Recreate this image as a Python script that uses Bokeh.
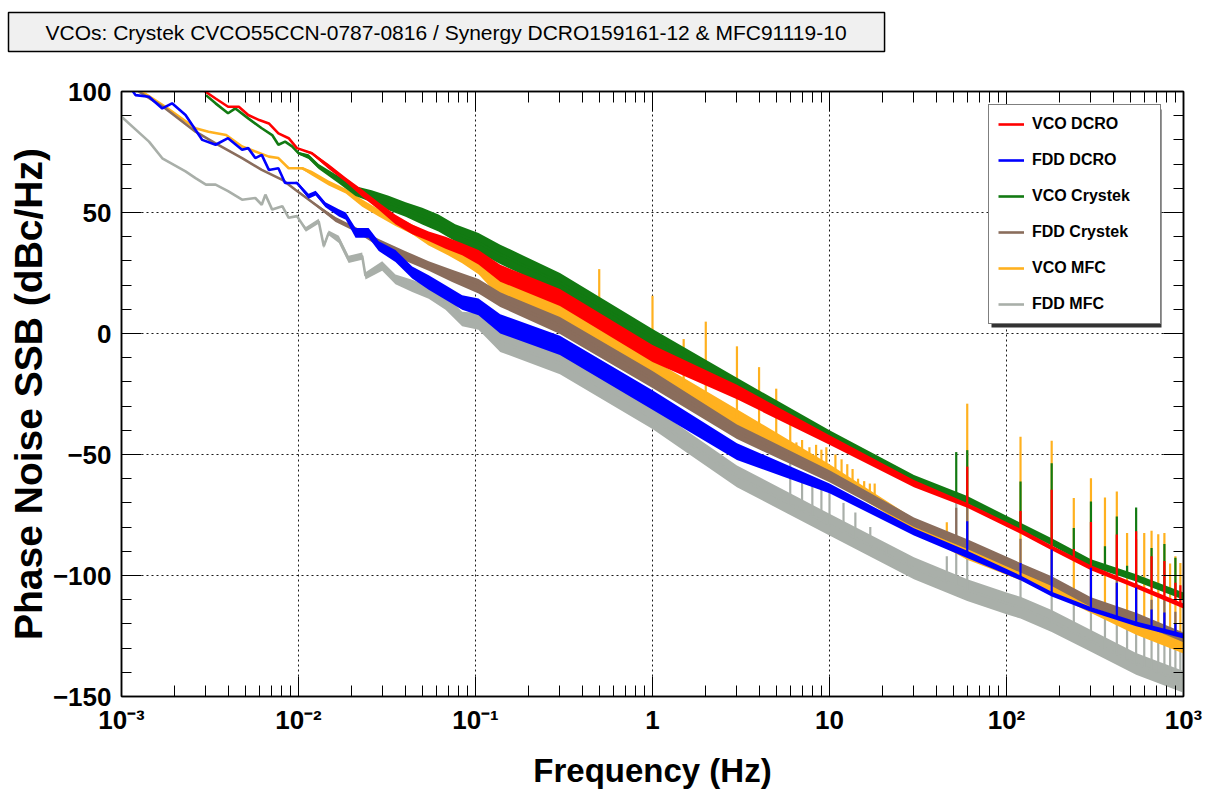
import numpy as np
from bokeh.plotting import figure
from bokeh.models import (FixedTicker, LogAxis, LinearAxis, CustomJSTickFormatter, Legend,
                          LegendItem, Range1d, BoxAnnotation)
from bokeh.embed import file_html
from bokeh.resources import INLINE

# ---------------- texts ----------------
TITLE = "VCOs: Crystek CVCO55CCN-0787-0816 / Synergy DCRO159161-12 & MFC91119-10"
X_LABEL = "Frequency (Hz)"
Y_LABEL = "Phase Noise SSB (dBc/Hz)"
SERIES_NAMES = ["VCO DCRO", "FDD DCRO", "VCO Crystek", "FDD Crystek", "VCO MFC", "FDD MFC"]
X_TICKS = [1e-3, 1e-2, 1e-1, 1.0, 10.0, 100.0, 1000.0]
X_TICK_LABELS = ["10\u207b\u00b3", "10\u207b\u00b2", "10\u207b\u00b9", "1", "10", "10\u00b2", "10\u00b3"]
Y_TICKS = [-150, -100, -50, 0, 50, 100]
Y_TICK_LABELS = ["\u2212150", "\u2212100", "\u221250", "0", "50", "100"]

# ---------------- data (freq in Hz, level in dBc/Hz, spread = half width of noise band in dB) ----------------
# VCO DCRO (red)
f_red = [0.0029, 0.0034, 0.004, 0.0046, 0.0052, 0.006, 0.0068, 0.0077, 0.0088, 0.0098,
         0.0119, 0.0148, 0.0185, 0.0229, 0.0284, 0.0353, 0.0439, 0.0544, 0.0677, 0.0841,
         0.104, 0.138, 0.3, 1.0, 3.0, 10.0, 30.0, 60.0, 120.0, 180.0,
         300.0, 540.0, 1000.0]
v_red = [100.5, 97.1, 93.7, 93.7, 90.3, 88.2, 86.8, 82.7, 80.7, 76.6,
         74.5, 69.0, 63.5, 58.0, 52.6, 47.1, 43.0, 40.2, 37.5, 34.8,
         31.5, 24.9, 14.9, -8.3, -24.2, -44.0, -62.0, -71.0, -81.7, -88.6,
         -96.8, -104.4, -112.6]
s_red = [0, 0, 0, 0, 0, 0, 0, 0, 0, 0,
         0.5, 1, 1, 1.5, 1.5, 2, 2, 2, 2.5, 2.5,
         3, 3.5, 3.5, 3.5, 3, 2, 1.5, 1, 1, 1,
         1, 1, 1]
spk_f_red = [60.0, 120.0, 180.0, 240.0, 300.0, 420.0, 540.0, 660.0, 780.0, 900.0, 960.0]
spk_t_red = [-55.0, -73.3, -64.6, -89.0, -77.9, -83.1, -81.7, -92.0, -94.0, -103.0, -104.0]

# FDD DCRO (blue)
f_blue = [0.00115, 0.0012, 0.00143, 0.0017, 0.00193, 0.0023, 0.00286, 0.0034, 0.004, 0.0048,
          0.0052, 0.0057, 0.0062, 0.0068, 0.0077, 0.0084, 0.0098, 0.0114, 0.0125, 0.0142,
          0.0169, 0.0185, 0.021, 0.0249, 0.0284, 0.0353, 0.0439, 0.0544, 0.0677, 0.0841,
          0.104, 0.138, 0.3, 1.0, 3.0, 10.0, 30.0, 60.0, 120.0, 180.0,
          300.0, 540.0, 1000.0]
v_blue = [100.5, 98.5, 97.8, 93.0, 95.1, 90.3, 80.0, 78.0, 80.7, 75.9,
          76.6, 72.5, 73.8, 67.6, 68.3, 62.2, 62.2, 56.7, 58.0, 53.2,
          49.8, 48.5, 41.6, 41.6, 36.1, 32.0, 25.2, 21.1, 16.9, 12.8,
          11.0, 4.0, -4.9, -27.5, -48.8, -64.0, -82.0, -91.3, -101.0, -107.7,
          -114.0, -120.0, -125.0]
s_blue = [0, 0, 0, 0, 0, 0, 0, 0, 0, 0,
          0, 0, 0, 0, 0, 0, 0.5, 1, 1, 1,
          1.5, 1.5, 2, 2, 2, 2.5, 2.5, 3, 3, 3,
          3.5, 4, 4, 4, 3.5, 2, 1.5, 1.5, 1, 1,
          1, 1, 1]
spk_f_blue = [60.0, 120.0, 180.0, 300.0, 420.0, 540.0, 660.0, 780.0, 900.0]
spk_t_blue = [-77.6, -94.8, -89.3, -96.8, -103.0, -105.0, -114.0, -115.3, -120.0]

# VCO Crystek (green)
f_green = [0.003, 0.0034, 0.004, 0.0044, 0.0052, 0.0062, 0.0071, 0.0077, 0.0084, 0.0092,
           0.01, 0.0114, 0.013, 0.0169, 0.021, 0.0259, 0.0323, 0.0403, 0.05, 0.0618,
           0.0768, 0.104, 0.138, 0.3, 1.0, 3.0, 10.0, 30.0, 60.0, 120.0,
           180.0, 300.0, 540.0, 1000.0]
v_green = [98.5, 95.1, 91.0, 93.0, 88.9, 84.8, 82.0, 78.0, 79.3, 77.3,
           74.5, 73.1, 69.0, 63.5, 58.8, 56.7, 53.9, 51.2, 48.5, 45.7,
           41.6, 37.5, 32.7, 21.0, -1.6, -21.3, -42.0, -60.0, -68.7, -79.7,
           -86.1, -94.8, -101.0, -108.5]
s_green = [0, 0, 0, 0, 0, 0, 0, 0, 0, 0,
           0.5, 1, 1, 1.5, 2, 2.5, 3, 3, 3.5, 3.5,
           3.5, 4, 4, 4, 3.5, 3, 2, 1.5, 1.5, 1.5,
           1.5, 1.5, 1.5, 1.5]
spk_f_green = [52.0, 60.0, 120.0, 180.0, 240.0, 300.0, 360.0, 420.0, 480.0, 540.0, 660.0, 780.0, 900.0]
spk_t_green = [-49.0, -48.2, -61.2, -53.6, -80.4, -69.4, -87.9, -75.6, -96.0, -71.9, -88.6, -87.0, -92.7]

# FDD Crystek (brown)
f_brown = [0.00125, 0.00177, 0.00262, 0.0034, 0.0048, 0.0062, 0.0081, 0.0096, 0.0125, 0.0162,
           0.021, 0.0284, 0.0403, 0.0544, 0.0738, 0.104, 0.138, 0.3, 1.0, 3.0,
           10.0, 30.0, 60.0, 120.0, 180.0, 300.0, 540.0, 1000.0]
v_brown = [100.0, 93.0, 83.4, 78.6, 72.5, 67.6, 63.5, 59.4, 53.2, 47.1,
           43.0, 37.5, 32.0, 27.9, 23.8, 19.5, 14.0, 3.3, -19.0, -40.6,
           -59.0, -78.0, -87.0, -96.8, -102.3, -111.0, -117.4, -125.6]
s_brown = [0, 0, 0, 0, 0, 0, 0, 0, 0.5, 1,
           1, 1.5, 2, 2, 2.5, 3, 3, 3.5, 3.5, 3,
           2.5, 2, 2, 2, 2, 2, 2, 2]
spk_f_brown = [52.0, 60.0, 120.0, 180.0, 300.0, 420.0, 540.0, 660.0, 780.0, 900.0]
spk_t_brown = [-72.0, -69.0, -84.8, -87.0, -95.0, -100.0, -103.0, -110.0, -110.0, -115.0]

# VCO MFC (orange)
f_orange = [0.0013, 0.00177, 0.00262, 0.0031, 0.0039, 0.0048, 0.0057, 0.0068, 0.0077, 0.0088,
            0.0105, 0.0119, 0.0148, 0.0185, 0.0229, 0.0284, 0.0353, 0.0439, 0.0544, 0.0677,
            0.0841, 0.104, 0.138, 0.3, 1.0, 3.0, 10.0, 30.0, 60.0, 120.0,
            180.0, 300.0, 540.0, 1000.0]
v_orange = [100.0, 93.7, 84.8, 83.4, 82.0, 77.3, 75.2, 73.1, 72.5, 68.3,
            68.3, 66.3, 62.2, 58.8, 53.9, 49.8, 46.4, 43.0, 38.9, 35.4,
            32.0, 27.5, 18.3, 8.7, -14.7, -35.3, -57.0, -79.0, -91.0, -99.5,
            -105.0, -113.0, -122.0, -129.7]
s_orange = [0, 0, 0, 0, 0, 0, 0, 0, 0, 0,
            0.5, 1, 1, 1, 1.5, 1.5, 2, 2, 2.5, 2.5,
            3, 3, 3.5, 4, 4, 4, 3, 2.5, 2.5, 2.5,
            2.5, 2.5, 2.5, 2.5]
spk_f_orange = [0.5, 1.0, 1.5, 2.0, 3.0, 4.0, 5.0, 6.0, 6.5, 7.0,
                7.7, 8.4, 9.0, 9.6, 10.8, 11.7, 12.6, 13.5, 14.5, 15.7,
                16.9, 18.0, 21.0, 24.0, 28.0, 32.0, 46.0, 60.0, 120.0, 180.0,
                240.0, 300.0, 360.0, 420.0, 480.0, 540.0, 600.0, 660.0, 720.0, 780.0,
                840.0, 900.0, 960.0]
spk_t_orange = [26.6, 15.6, -2.3, 4.9, -5.3, -13.9, -22.8, -32.0, -45.0, -44.0,
                -47.0, -46.0, -48.0, -47.0, -50.0, -52.0, -54.0, -56.0, -60.0, -61.0,
                -62.0, -62.0, -70.0, -74.0, -76.0, -78.0, -78.0, -29.0, -42.7, -44.3,
                -68.0, -59.8, -67.8, -65.3, -82.4, -85.0, -82.4, -81.5, -83.0, -82.4,
                -95.0, -92.0, -94.8]

# FDD MFC (gray)
f_gray = [0.001, 0.00143, 0.0017, 0.0023, 0.00262, 0.003, 0.0034, 0.004, 0.0048, 0.0057,
          0.0062, 0.0065, 0.0071, 0.0081, 0.0088, 0.0098, 0.011, 0.013, 0.0139, 0.0148,
          0.0169, 0.0192, 0.0229, 0.0239, 0.0297, 0.0353, 0.0439, 0.0544, 0.0677, 0.0841,
          0.104, 0.138, 0.3, 1.0, 3.0, 10.0, 30.0, 60.0, 100.0, 120.0,
          180.0, 300.0, 540.0, 1000.0]
v_gray = [89.6, 79.3, 72.4, 67.0, 64.2, 61.5, 61.5, 58.8, 55.3, 56.0,
          53.2, 57.4, 51.2, 52.6, 47.8, 48.5, 43.0, 46.4, 36.1, 41.6,
          38.9, 30.6, 32.0, 23.8, 27.9, 22.4, 19.7, 16.9, 12.8, 6.0,
          5.0, -3.6, -12.3, -35.0, -59.0, -79.0, -97.0, -106.0, -111.5, -113.3,
          -118.8, -127.0, -136.5, -144.0]
s_gray = [0, 0, 0, 0, 0, 0, 0, 0, 0, 0,
          0, 0, 0, 0, 0, 0, 1, 1, 1, 1,
          1.5, 1.5, 1.5, 1.5, 2, 2, 2.5, 2.5, 3, 3,
          3.5, 4, 4.5, 4.5, 4.5, 4.5, 4.5, 4.5, 4.5, 4.5,
          4.5, 4.5, 4.5, 4.5]
spk_f_gray = [6.0, 7.0, 8.0, 9.0, 10.0, 12.0, 14.0, 17.0, 21.0, 24.0,
              28.0, 32.0, 40.0, 46.0, 52.0, 60.0, 120.0, 180.0, 240.0, 300.0,
              360.0, 420.0, 480.0, 540.0, 600.0, 660.0, 720.0, 780.0, 840.0, 900.0,
              960.0]
spk_t_gray = [-52.0, -58.0, -60.0, -62.0, -64.0, -70.0, -74.0, -80.0, -88.0, -90.0,
              -93.0, -95.0, -98.0, -92.0, -70.0, -68.0, -98.0, -100.0, -108.0, -110.0,
              -115.0, -115.0, -118.0, -118.0, -122.0, -120.0, -124.0, -124.0, -128.0, -126.0,
              -130.0]

COLORS = {"VCO DCRO": "#ff0000", "FDD DCRO": "#0000ff", "VCO Crystek": "#127a12",
          "FDD Crystek": "#8a6d5c", "VCO MFC": "#ffb11f", "FDD MFC": "#a9afa9"}

FONT = "Liberation Sans"

# ---------------- main plot ----------------
p = figure(width=1225, height=792, x_axis_type="log",
           x_range=Range1d(1e-3, 1e3), y_range=Range1d(-150, 100),
           output_backend="svg", toolbar_location=None,
           min_border_left=121, min_border_right=42, min_border_top=88, min_border_bottom=96)
p.background_fill_color = "white"
p.border_fill_color = "white"
p.outline_line_color = "black"
p.outline_line_width = 1.5

# title box
p.title.text = TITLE
p.title.align = "left"
p.title.offset = -113
p.title.standoff = 20
p.title.text_font = FONT
p.title.text_font_style = "normal"
p.title.text_font_size = "21px"
p.title.text_color = "black"
p.title.background_fill_color = "#f0f0f0"
p.title.border_line_color = "black"
p.title.border_line_width = 1.5
try:
    p.title.padding = dict(left=37, right=38, top=8, bottom=8)
except Exception:
    p.title.padding = 8

x_minor = [m * 10.0 ** k for k in range(-3, 3) for m in range(2, 10)]
xticker = FixedTicker(ticks=X_TICKS, minor_ticks=x_minor)
yticker = FixedTicker(ticks=Y_TICKS, minor_ticks=list(range(-150, 101, 10)))

xfmt = CustomJSTickFormatter(args=dict(labs=X_TICK_LABELS, vals=X_TICKS), code="""
let best = 0, d = Infinity;
for (let i = 0; i < vals.length; i++) {
  const e = Math.abs(Math.log10(tick) - Math.log10(vals[i]));
  if (e < d) { d = e; best = i; }
}
return labs[best];
""")
yfmt = CustomJSTickFormatter(args=dict(labs=Y_TICK_LABELS, vals=Y_TICKS), code="""
let best = 0, d = Infinity;
for (let i = 0; i < vals.length; i++) {
  const e = Math.abs(tick - vals[i]);
  if (e < d) { d = e; best = i; }
}
return labs[best];
""")
blank = CustomJSTickFormatter(code="return '';")

def style_axis(ax, major_len, minor_len):
    ax.major_tick_in = major_len
    ax.major_tick_out = 0
    ax.minor_tick_in = minor_len
    ax.minor_tick_out = 0
    ax.axis_line_color = "black"
    ax.axis_line_width = 1.5
    ax.major_tick_line_color = "black"
    ax.minor_tick_line_color = "black"
    ax.major_tick_line_width = 1
    ax.minor_tick_line_width = 1

xa = p.xaxis[0]
xa.ticker = xticker
xa.formatter = xfmt
style_axis(xa, 20, 11)
xa.major_label_text_font = FONT
xa.major_label_text_font_style = "bold"
xa.major_label_text_font_size = "26px"
xa.major_label_text_color = "black"
xa.major_label_standoff = 8
xa.axis_label = X_LABEL
xa.axis_label_text_font = FONT
xa.axis_label_text_font_style = "bold"
xa.axis_label_text_font_size = "33px"
xa.axis_label_text_color = "black"
xa.axis_label_standoff = 14

ya = p.yaxis[0]
ya.ticker = yticker
ya.formatter = yfmt
style_axis(ya, 20, 10)
ya.major_label_text_font = FONT
ya.major_label_text_font_style = "bold"
ya.major_label_text_font_size = "26px"
ya.major_label_text_color = "black"
ya.major_label_standoff = 10
ya.axis_label = Y_LABEL
ya.axis_label_text_font = FONT
ya.axis_label_text_font_style = "bold"
ya.axis_label_text_font_size = "39px"
ya.axis_label_text_color = "black"
ya.axis_label_standoff = 0

top_axis = LogAxis(ticker=xticker, formatter=blank, major_label_text_font_size="0px")
style_axis(top_axis, 20, 11)
p.add_layout(top_axis, "above")
# invisible spacer between the frame and the title box
spacer = LogAxis(ticker=xticker, formatter=blank, major_label_text_font_size="0px",
                 axis_line_color=None, major_tick_line_color=None, minor_tick_line_color=None,
                 major_tick_in=0, major_tick_out=30, minor_tick_in=0, minor_tick_out=0)
p.add_layout(spacer, "above")
right_axis = LinearAxis(ticker=yticker, formatter=blank, major_label_text_font_size="0px")
style_axis(right_axis, 20, 10)
p.add_layout(right_axis, "right")

p.xgrid.ticker = FixedTicker(ticks=X_TICKS)
p.ygrid.ticker = FixedTicker(ticks=Y_TICKS)
for g in (p.xgrid, p.ygrid):
    g.grid_line_color = "black"
    g.grid_line_width = 1
    g.grid_line_dash = "2 3"
    g.grid_line_alpha = 0.9

def draw(name, f, v, s, sf, st):
    color = COLORS[name]
    f = np.asarray(f, float)
    v = np.asarray(v, float)
    s = np.asarray(s, float)
    p.varea(x=f, y1=v - s, y2=v + s, fill_color=color, fill_alpha=1)
    r = p.line(f, v, line_color=color, line_width=2.6)
    sf = np.asarray(sf, float)
    base = np.interp(np.log10(sf), np.log10(f), v)
    p.segment(x0=sf, y0=base, x1=sf, y1=st, line_color=color, line_width=2.2)
    return r

rend = {}
rend["FDD MFC"] = draw("FDD MFC", f_gray, v_gray, s_gray, spk_f_gray, spk_t_gray)
rend["VCO MFC"] = draw("VCO MFC", f_orange, v_orange, s_orange, spk_f_orange, spk_t_orange)
rend["FDD Crystek"] = draw("FDD Crystek", f_brown, v_brown, s_brown, spk_f_brown, spk_t_brown)
rend["VCO Crystek"] = draw("VCO Crystek", f_green, v_green, s_green, spk_f_green, spk_t_green)
rend["VCO DCRO"] = draw("VCO DCRO", f_red, v_red, s_red, spk_f_red, spk_t_red)
rend["FDD DCRO"] = draw("FDD DCRO", f_blue, v_blue, s_blue, spk_f_blue, spk_t_blue)

# legend shadow + legend
shadow = BoxAnnotation(left=870, right=1040, bottom=369, top=587,
                       left_units="screen", right_units="screen",
                       top_units="screen", bottom_units="screen",
                       fill_color="#333333", fill_alpha=1, line_color=None)
p.add_layout(shadow)
legend = Legend(items=[LegendItem(label=n, renderers=[rend[n]]) for n in SERIES_NAMES],
                location=(867, 372))
legend.border_line_color = "black"
legend.border_line_width = 1
legend.background_fill_color = "white"
legend.background_fill_alpha = 1
legend.label_text_font = FONT
legend.label_text_font_style = "bold"
legend.label_text_font_size = "16px"
legend.label_text_color = "black"
legend.glyph_width = 26
legend.glyph_height = 20
legend.label_height = 20
legend.label_standoff = 8
legend.label_width = 119
legend.spacing = 16
legend.padding = 9
legend.margin = 0
p.add_layout(legend, "center")

open("out.html", "w").write(file_html(p, INLINE))
